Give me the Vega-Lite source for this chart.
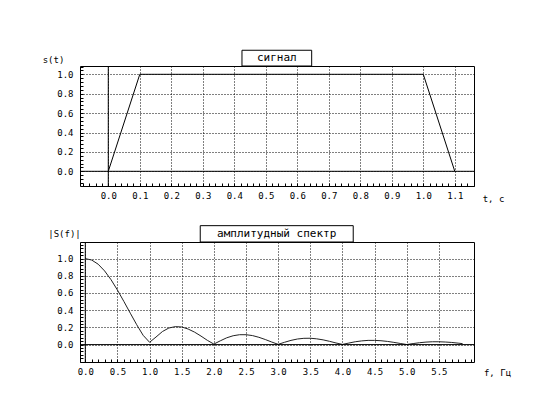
{
  "$schema": "https://vega.github.io/schema/vega-lite/v6.json",
  "autosize": {"type": "pad"},
  "padding": {"left": 41, "top": 49, "right": 10, "bottom": 10},
  "background": "white",
  "bounds": "flush",
  "spacing": 56,
  "config": {
    "view": {"stroke": "#000", "strokeWidth": 1},
    "font": "DejaVu Sans Mono",
    "axis": {
      "labelFont": "DejaVu Sans Mono",
      "titleFont": "DejaVu Sans Mono",
      "labelFontSize": 9,
      "titleFontSize": 9,
      "titleFontWeight": "normal",
      "labelColor": "#000",
      "titleColor": "#000",
      "gridColor": "#000",
      "gridOpacity": 1,
      "gridDash": [1, 2],
      "gridWidth": 1,
      "tickColor": "#000",
      "domain": false
    }
  },
  "datasets": {
    "one": [{"k": 1}],
    "signal": [
      {"t": 0.0, "s": 0.0},
      {"t": 0.1, "s": 1.0},
      {"t": 1.0, "s": 1.0},
      {"t": 1.1, "s": 0.0}
    ],
    "spectrum": [
      {"f": 0.0, "a": 1.0}, {"f": 0.1, "a": 0.983}, {"f": 0.2, "a": 0.935}, {"f": 0.3, "a": 0.857},
      {"f": 0.4, "a": 0.755}, {"f": 0.5, "a": 0.634}, {"f": 0.6, "a": 0.502}, {"f": 0.7, "a": 0.365},
      {"f": 0.8, "a": 0.231}, {"f": 0.9, "a": 0.108}, {"f": 1.0, "a": 0.027}, {"f": 1.1, "a": 0.088},
      {"f": 1.2, "a": 0.152}, {"f": 1.3, "a": 0.193}, {"f": 1.4, "a": 0.209}, {"f": 1.5, "a": 0.205},
      {"f": 1.6, "a": 0.181}, {"f": 1.7, "a": 0.145}, {"f": 1.8, "a": 0.099}, {"f": 1.9, "a": 0.049},
      {"f": 2.0, "a": 0.006}, {"f": 2.1, "a": 0.044}, {"f": 2.2, "a": 0.079}, {"f": 2.3, "a": 0.103},
      {"f": 2.4, "a": 0.115}, {"f": 2.5, "a": 0.115}, {"f": 2.6, "a": 0.105}, {"f": 2.7, "a": 0.085},
      {"f": 2.8, "a": 0.059}, {"f": 2.9, "a": 0.030}, {"f": 3.0, "a": 0.003}, {"f": 3.1, "a": 0.027},
      {"f": 3.2, "a": 0.049}, {"f": 3.3, "a": 0.065}, {"f": 3.4, "a": 0.073}, {"f": 3.5, "a": 0.074},
      {"f": 3.6, "a": 0.067}, {"f": 3.7, "a": 0.055}, {"f": 3.8, "a": 0.038}, {"f": 3.9, "a": 0.019},
      {"f": 4.0, "a": 0.002}, {"f": 4.1, "a": 0.018}, {"f": 4.2, "a": 0.033}, {"f": 4.3, "a": 0.043},
      {"f": 4.4, "a": 0.049}, {"f": 4.5, "a": 0.049}, {"f": 4.6, "a": 0.045}, {"f": 4.7, "a": 0.037},
      {"f": 4.8, "a": 0.026}, {"f": 4.9, "a": 0.013}, {"f": 5.0, "a": 0.001}, {"f": 5.1, "a": 0.012},
      {"f": 5.2, "a": 0.022}, {"f": 5.3, "a": 0.029}, {"f": 5.4, "a": 0.033}, {"f": 5.5, "a": 0.033},
      {"f": 5.6, "a": 0.030}, {"f": 5.7, "a": 0.025}, {"f": 5.8, "a": 0.017}, {"f": 5.87, "a": 0.011}
    ]
  },
  "vconcat": [
    {
      "width": 394,
      "height": 120,
      "layer": [
        {
          "data": {"name": "signal"},
          "mark": {"type": "line", "color": "#000", "strokeWidth": 1},
          "encoding": {
            "x": {
              "field": "t", "type": "quantitative",
              "scale": {"domain": [-0.0898, 1.161], "nice": false, "zero": false},
              "axis": {
                "orient": "bottom",
                "values": [0, 0.1, 0.2, 0.3, 0.4, 0.5, 0.6, 0.7, 0.8, 0.9, 1.0, 1.1],
                "format": ".1f",
                "grid": true, "ticks": false, "tickSize": 0, "labelPadding": 5,
                "labelFlush": false,
                "title": "t, c", "titleAngle": 0, "titleAlign": "center", "titleBaseline": "middle",
                "titleX": 413, "titleY": 12
              }
            },
            "y": {
              "field": "s", "type": "quantitative",
              "scale": {"domain": [-0.1515, 1.0856], "nice": false, "zero": false},
              "axis": {
                "orient": "left",
                "values": [0, 0.2, 0.4, 0.6, 0.8, 1.0],
                "format": ".1f",
                "grid": true, "ticks": false, "tickSize": 0, "labelPadding": 7,
                "labelFlush": false,
                "title": "s(t)", "titleAngle": 0, "titleAlign": "center", "titleBaseline": "middle",
                "titleX": -27, "titleY": -7
              }
            }
          }
        },
        {
          "data": {"name": "one"},
          "mark": {"type": "rule", "color": "#000", "strokeWidth": 1},
          "encoding": {
            "x": {
              "datum": 0, "type": "quantitative",
              "axis": {
                "orient": "top", "offset": -120, "labels": false, "grid": false, "title": null,
                "ticks": true, "tickSize": 3,
                "values": [-0.08, -0.06, -0.04, -0.02, 0, 0.02, 0.04, 0.06, 0.08, 0.1, 0.12, 0.14, 0.16, 0.18, 0.2, 0.22, 0.24, 0.26, 0.28, 0.3, 0.32, 0.34, 0.36, 0.38, 0.4, 0.42, 0.44, 0.46, 0.48, 0.5, 0.52, 0.54, 0.56, 0.58, 0.6, 0.62, 0.64, 0.66, 0.68, 0.7, 0.72, 0.74, 0.76, 0.78, 0.8, 0.82, 0.84, 0.86, 0.88, 0.9, 0.92, 0.94, 0.96, 0.98, 1.0, 1.02, 1.04, 1.06, 1.08, 1.1, 1.12, 1.14, 1.16]
              }
            }
          }
        },
        {
          "data": {"name": "one"},
          "mark": {"type": "rule", "color": "#000", "strokeWidth": 1},
          "encoding": {
            "y": {
              "datum": 0, "type": "quantitative",
              "axis": {
                "orient": "right", "offset": -394, "labels": false, "grid": false, "title": null,
                "ticks": true, "tickSize": 3,
                "values": [-0.12, -0.08, -0.04, 0, 0.04, 0.08, 0.12, 0.16, 0.2, 0.24, 0.28, 0.32, 0.36, 0.4, 0.44, 0.48, 0.52, 0.56, 0.6, 0.64, 0.68, 0.72, 0.76, 0.8, 0.84, 0.88, 0.92, 0.96, 1.0, 1.04, 1.08]
              }
            }
          }
        },
        {
          "data": {"name": "one"},
          "mark": {"type": "rect", "fill": "#fff", "stroke": "#000", "strokeWidth": 1},
          "encoding": {
            "x": {"datum": 0.4244, "type": "quantitative", "axis": null},
            "x2": {"datum": 0.6457},
            "y": {"datum": 1.0856, "type": "quantitative", "axis": null},
            "y2": {"datum": 1.2479}
          }
        },
        {
          "data": {"name": "one"},
          "mark": {"type": "text", "text": "сигнал", "font": "DejaVu Sans Mono", "fontSize": 11, "color": "#000", "align": "center", "baseline": "middle"},
          "encoding": {
            "x": {"datum": 0.535, "type": "quantitative", "axis": null},
            "y": {"datum": 1.164, "type": "quantitative", "axis": null}
          }
        }
      ]
    },
    {
      "width": 394,
      "height": 120,
      "layer": [
        {
          "data": {"name": "spectrum"},
          "mark": {"type": "line", "color": "#222", "strokeWidth": 1},
          "encoding": {
            "x": {
              "field": "f", "type": "quantitative",
              "scale": {"domain": [-0.0825, 6.047], "nice": false, "zero": false},
              "axis": {
                "orient": "bottom",
                "values": [0, 0.5, 1.0, 1.5, 2.0, 2.5, 3.0, 3.5, 4.0, 4.5, 5.0, 5.5],
                "format": ".1f",
                "grid": true, "ticks": false, "tickSize": 0, "labelPadding": 5,
                "labelFlush": false,
                "title": "f, Гц", "titleAngle": 0, "titleAlign": "center", "titleBaseline": "middle",
                "titleX": 417, "titleY": 10
              }
            },
            "y": {
              "field": "a", "type": "quantitative",
              "scale": {"domain": [-0.2023, 1.193], "nice": false, "zero": false},
              "axis": {
                "orient": "left",
                "values": [0, 0.2, 0.4, 0.6, 0.8, 1.0],
                "format": ".1f",
                "grid": true, "ticks": false, "tickSize": 0, "labelPadding": 7,
                "labelFlush": false,
                "title": "|S(f)|", "titleAngle": 0, "titleAlign": "center", "titleBaseline": "middle",
                "titleX": -16, "titleY": -9
              }
            }
          }
        },
        {
          "data": {"name": "one"},
          "mark": {"type": "rule", "color": "#000", "strokeWidth": 1},
          "encoding": {
            "x": {
              "datum": 0, "type": "quantitative",
              "axis": {
                "orient": "top", "offset": -120, "labels": false, "grid": false, "title": null,
                "ticks": true, "tickSize": 3,
                "values": [0, 0.1, 0.2, 0.3, 0.4, 0.5, 0.6, 0.7, 0.8, 0.9, 1.0, 1.1, 1.2, 1.3, 1.4, 1.5, 1.6, 1.7, 1.8, 1.9, 2.0, 2.1, 2.2, 2.3, 2.4, 2.5, 2.6, 2.7, 2.8, 2.9, 3.0, 3.1, 3.2, 3.3, 3.4, 3.5, 3.6, 3.7, 3.8, 3.9, 4.0, 4.1, 4.2, 4.3, 4.4, 4.5, 4.6, 4.7, 4.8, 4.9, 5.0, 5.1, 5.2, 5.3, 5.4, 5.5, 5.6, 5.7, 5.8, 5.9, 6.0]
              }
            }
          }
        },
        {
          "data": {"name": "one"},
          "mark": {"type": "rule", "color": "#000", "strokeWidth": 1},
          "encoding": {
            "y": {
              "datum": 0, "type": "quantitative",
              "axis": {
                "orient": "right", "offset": -394, "labels": false, "grid": false, "title": null,
                "ticks": true, "tickSize": 3,
                "values": [-0.2, -0.16, -0.12, -0.08, -0.04, 0, 0.04, 0.08, 0.12, 0.16, 0.2, 0.24, 0.28, 0.32, 0.36, 0.4, 0.44, 0.48, 0.52, 0.56, 0.6, 0.64, 0.68, 0.72, 0.76, 0.8, 0.84, 0.88, 0.92, 0.96, 1.0, 1.04, 1.08, 1.12, 1.16]
              }
            }
          }
        },
        {
          "data": {"name": "one"},
          "mark": {"type": "rect", "fill": "#fff", "stroke": "#000", "strokeWidth": 1},
          "encoding": {
            "x": {"datum": 1.788, "type": "quantitative", "axis": null},
            "x2": {"datum": 4.168},
            "y": {"datum": 1.193, "type": "quantitative", "axis": null},
            "y2": {"datum": 1.383}
          }
        },
        {
          "data": {"name": "one"},
          "mark": {"type": "text", "text": "амплитудный спектр", "font": "DejaVu Sans Mono", "fontSize": 11, "color": "#000", "align": "center", "baseline": "middle"},
          "encoding": {
            "x": {"datum": 2.978, "type": "quantitative", "axis": null},
            "y": {"datum": 1.286, "type": "quantitative", "axis": null}
          }
        }
      ]
    }
  ]
}
